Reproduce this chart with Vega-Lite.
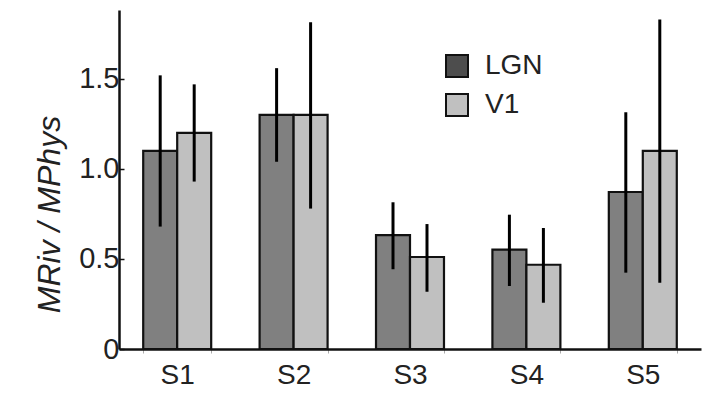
{
  "$schema": "https://vega.github.io/schema/vega-lite/v6.json",
  "autosize": {"type": "none"},
  "padding": {"left": 119, "top": 10, "right": 17, "bottom": 56},
  "width": 582,
  "height": 339,
  "background": "white",
  "config": {
    "view": {"stroke": null},
    "font": "Liberation Sans"
  },
  "data": {
    "values": [
      {"subject": "S1", "area": "LGN", "value": 1.10, "lo": 0.68, "hi": 1.52},
      {"subject": "S1", "area": "V1", "value": 1.20, "lo": 0.93, "hi": 1.47},
      {"subject": "S2", "area": "LGN", "value": 1.30, "lo": 1.04, "hi": 1.56},
      {"subject": "S2", "area": "V1", "value": 1.30, "lo": 0.78, "hi": 1.815},
      {"subject": "S3", "area": "LGN", "value": 0.633, "lo": 0.443, "hi": 0.815},
      {"subject": "S3", "area": "V1", "value": 0.511, "lo": 0.318, "hi": 0.694},
      {"subject": "S4", "area": "LGN", "value": 0.552, "lo": 0.35, "hi": 0.746},
      {"subject": "S4", "area": "V1", "value": 0.468, "lo": 0.257, "hi": 0.672},
      {"subject": "S5", "area": "LGN", "value": 0.872, "lo": 0.424, "hi": 1.315},
      {"subject": "S5", "area": "V1", "value": 1.10, "lo": 0.368, "hi": 1.83}
    ]
  },
  "encoding": {
    "x": {
      "field": "subject",
      "type": "nominal",
      "scale": {"paddingInner": 0.416, "paddingOuter": 0.208},
      "axis": {
        "title": null,
        "labelAngle": 0,
        "labelFontSize": 28,
        "labelColor": "#222222",
        "labelPadding": 8,
        "domainColor": "#111111",
        "domainWidth": 2.5,
        "tickBand": "extent",
        "tickSize": 4,
        "tickColor": "#aaaaaa",
        "tickWidth": 1
      }
    },
    "xOffset": {"field": "area", "type": "nominal", "scale": {"paddingInner": 0, "paddingOuter": 0}}
  },
  "layer": [
    {
      "mark": {"type": "bar", "stroke": "#111111", "strokeWidth": 2.2},
      "encoding": {
        "y": {
          "field": "value",
          "type": "quantitative",
          "scale": {"domain": [0, 1.883], "nice": false},
          "axis": {
            "title": "MRiv / MPhys",
            "titleFontSize": 32,
            "titleFontWeight": "normal",
            "titleFontStyle": "italic",
            "titleColor": "#222222",
            "titlePadding": 12,
            "titleY": 204,
            "values": [0, 0.5, 1, 1.5],
            "labelExpr": "datum.value == 0 ? '0' : format(datum.value, '.1f')",
            "labelFontSize": 29,
            "labelColor": "#222222",
            "labelPadding": 5,
            "grid": false,
            "domainColor": "#111111",
            "domainWidth": 2.5,
            "tickSize": -5,
            "tickColor": "#111111",
            "tickWidth": 1.5
          }
        },
        "fill": {
          "field": "area",
          "type": "nominal",
          "scale": {"domain": ["LGN", "V1"], "range": ["#808080", "#c0c0c0"]},
          "legend": null
        }
      }
    },
    {
      "mark": {"type": "rule", "color": "#000000", "strokeWidth": 3},
      "encoding": {
        "y": {"field": "lo", "type": "quantitative"},
        "y2": {"field": "hi"}
      }
    },
    {
      "mark": {"type": "bar", "stroke": "#111111", "strokeWidth": 2},
      "encoding": {
        "y": {"datum": 0, "type": "quantitative"},
        "color": {
          "field": "area",
          "type": "nominal",
          "scale": {"range": ["#4d4d4d", "#c0c0c0"]},
          "legend": {
            "title": null,
            "orient": "none",
            "legendX": 324,
            "legendY": 42,
            "symbolType": "square",
            "symbolSize": 484,
            "symbolStrokeColor": "#111111",
            "symbolStrokeWidth": 2,
            "symbolOpacity": 1,
            "labelFontSize": 28,
            "labelColor": "#222222",
            "labelOffset": 14,
            "rowPadding": 9
          }
        }
      }
    }
  ]
}
